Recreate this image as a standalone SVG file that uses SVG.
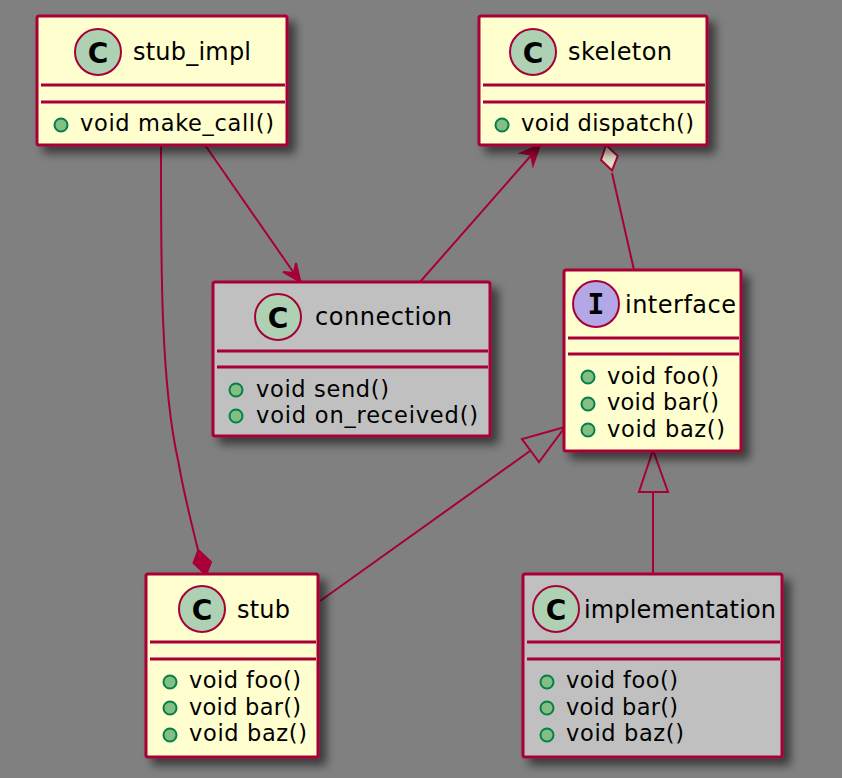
<svg xmlns="http://www.w3.org/2000/svg" width="842" height="778" viewBox="0 0 842 778">
<style>
text{font-family:"DejaVu Sans",sans-serif;fill:#000}
.t{font-size:24px}
.m{font-size:22.5px}
.g{font-size:28px;font-weight:700;text-anchor:middle}
.gi{font-family:"DejaVu Sans Mono",monospace;font-size:28px;font-weight:700;text-anchor:middle}
.b{fill:#FEFECE;stroke:#A80036;stroke-width:3;filter:url(#s)}
.gr{fill:#C0C0C0}
.l{stroke:#A80036;stroke-width:3;fill:none}
.c{fill:#ADD1B2;stroke:#A80036;stroke-width:2}
.i{fill:#B4A7E5;stroke:#A80036;stroke-width:2}
.d{fill:#84BE84;stroke:#038048;stroke-width:2}
.k{stroke:#A80036;stroke-width:2;fill:none}
.f{fill:#A80036;stroke:#A80036;stroke-width:2}
.o{fill:#E2DBC6;stroke:#A80036;stroke-width:2}
</style>
<defs>
<filter id="s" x="-20%" y="-20%" width="140%" height="140%">
<feGaussianBlur in="SourceAlpha" stdDeviation="5"/>
<feOffset dx="7" dy="7"/>
<feComponentTransfer><feFuncA type="linear" slope="0.55"/></feComponentTransfer>
<feMerge><feMergeNode/><feMergeNode in="SourceGraphic"/></feMerge>
</filter>
</defs>
<rect width="842" height="778" fill="#808080"/>
<g id="connectors">
<path class="k" d="M161,145 C161,250 160,380 178,460 C184,495 192,525 198,550"/>
<polygon class="f" points="198.3,550 211,562 206,575 193.5,563"/>
<path class="k" d="M205,145 L296,276"/>
<polygon class="f" points="300.5,282 283,272 294,273 296,263"/>
<path class="k" d="M420,282 L535,151"/>
<polygon class="f" points="540,145 521,153 531,154.5 533,165"/>
<path class="k" d="M612,173 L634,270"/>
<polygon class="o" points="606,145 617.7,156 612,170.5 601,160"/>
<path class="k" d="M320,601 L530,451"/>
<polygon class="k" points="565,427 522,439 539,462"/>
<path class="k" d="M653,492 L653,574"/>
<polygon class="k" points="653,450 639,492 668,492"/>
</g>
<g id="stub_impl">
<rect class="b" x="37" y="16" width="250" height="129" rx="2"/>
<circle class="c" cx="98" cy="52" r="23"/><text class="g" x="98" y="62.5">C</text>
<text class="t" x="133" y="60" textLength="118">stub_impl</text>
<path class="l" d="M41,85H285M41,102H285"/>
<circle class="d" cx="61" cy="125" r="6.5"/>
<text class="m" x="80" y="131" textLength="194">void make_call()</text>
</g>
<g id="skeleton">
<rect class="b" x="479" y="16" width="228" height="129" rx="2"/>
<circle class="c" cx="533" cy="52" r="23"/><text class="g" x="533" y="62.5">C</text>
<text class="t" x="568" y="60" textLength="104">skeleton</text>
<path class="l" d="M483,85H705M483,102H705"/>
<circle class="d" cx="502" cy="125" r="6.5"/>
<text class="m" x="521" y="131" textLength="173">void dispatch()</text>
</g>
<g id="connection">
<rect class="b gr" x="213" y="282" width="277" height="154" rx="2"/>
<circle class="c" cx="278" cy="317" r="23"/><text class="g" x="278" y="327.5">C</text>
<text class="t" x="315" y="325" textLength="137">connection</text>
<path class="l" d="M217,351H488M217,367H488"/>
<circle class="d" cx="236" cy="390" r="6.5"/>
<text class="m" x="256" y="397" textLength="133">void send()</text>
<circle class="d" cx="236" cy="416" r="6.5"/>
<text class="m" x="256" y="423" textLength="222">void on_received()</text>
</g>
<g id="interface">
<rect class="b" x="564" y="270" width="177" height="181" rx="2"/>
<circle class="i" cx="596" cy="304" r="23"/><text class="gi" x="596" y="314">I</text>
<text class="t" x="625" y="313" textLength="111">interface</text>
<path class="l" d="M568,338H739M568,354H739"/>
<circle class="d" cx="588" cy="377" r="6.5"/>
<text class="m" x="607" y="384" textLength="112">void foo()</text>
<circle class="d" cx="588" cy="404" r="6.5"/>
<text class="m" x="607" y="410" textLength="112">void bar()</text>
<circle class="d" cx="588" cy="430" r="6.5"/>
<text class="m" x="607" y="437" textLength="118">void baz()</text>
</g>
<g id="stub">
<rect class="b" x="146" y="574" width="172" height="183" rx="2"/>
<circle class="c" cx="202" cy="609" r="23"/><text class="g" x="202" y="619.5">C</text>
<text class="t" x="237" y="618" textLength="53">stub</text>
<path class="l" d="M150,642H316M150,659H316"/>
<circle class="d" cx="170" cy="682" r="6.5"/>
<text class="m" x="189" y="688" textLength="112">void foo()</text>
<circle class="d" cx="170" cy="708" r="6.5"/>
<text class="m" x="189" y="715" textLength="112">void bar()</text>
<circle class="d" cx="170" cy="735" r="6.5"/>
<text class="m" x="189" y="741" textLength="118">void baz()</text>
</g>
<g id="implementation">
<rect class="b gr" x="523" y="574" width="259" height="183" rx="2"/>
<circle class="c" cx="556" cy="609" r="23"/><text class="g" x="556" y="619.5">C</text>
<text class="t" x="584" y="618" textLength="192">implementation</text>
<path class="l" d="M527,642H780M527,659H780"/>
<circle class="d" cx="547" cy="682" r="6.5"/>
<text class="m" x="566" y="688" textLength="112">void foo()</text>
<circle class="d" cx="547" cy="708" r="6.5"/>
<text class="m" x="566" y="715" textLength="112">void bar()</text>
<circle class="d" cx="547" cy="735" r="6.5"/>
<text class="m" x="566" y="741" textLength="118">void baz()</text>
</g>
</svg>
